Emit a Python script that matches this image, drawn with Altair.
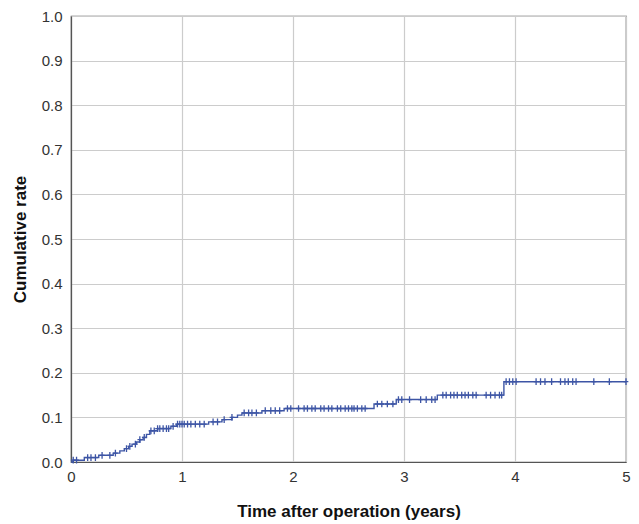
import altair as alt
import pandas as pd
import numpy as np

# Event times (years) and cumulative rate after each step
event_time = [0.0, 0.02, 0.12, 0.25, 0.38, 0.44, 0.48, 0.52, 0.55, 0.59, 0.62, 0.65,
              0.68, 0.71, 0.78, 0.90, 0.95, 1.24, 1.36, 1.45, 1.50, 1.54, 1.72, 1.92,
              2.73, 2.93, 3.30, 3.90]
event_rate = [0.0, 0.004, 0.010, 0.015, 0.020, 0.025, 0.030, 0.035, 0.040, 0.045, 0.050, 0.055,
              0.062, 0.070, 0.075, 0.080, 0.085, 0.090, 0.095, 0.100, 0.105, 0.110, 0.115, 0.120,
              0.130, 0.140, 0.150, 0.180]
end_time = 5.0

# Censored observation times (years)
censor_time = [0.02, 0.05, 0.15, 0.18, 0.22, 0.28, 0.35, 0.40, 0.50, 0.53, 0.58, 0.62, 0.66,
               0.72, 0.75, 0.78, 0.80, 0.83, 0.86, 0.88, 0.92, 0.96, 0.98,
               1.00, 1.02, 1.05, 1.08, 1.12, 1.16, 1.20, 1.28, 1.32, 1.38, 1.45, 1.56, 1.60,
               1.63, 1.67, 1.75, 1.80, 1.84, 1.88, 1.95, 1.98,
               2.05, 2.10, 2.13, 2.17, 2.20, 2.25, 2.28, 2.32, 2.35, 2.40, 2.43, 2.47, 2.50,
               2.53, 2.55, 2.58, 2.62, 2.65, 2.76, 2.80, 2.85, 2.90, 2.95, 2.98,
               3.05, 3.15, 3.20, 3.25, 3.28, 3.35, 3.38, 3.42, 3.45, 3.48, 3.52, 3.55, 3.58,
               3.62, 3.65, 3.74, 3.78, 3.82, 3.86, 3.88,
               3.92, 3.95, 3.98, 4.01, 4.19, 4.23, 4.27, 4.33, 4.41, 4.45, 4.48, 4.52, 4.55,
               4.71, 4.85, 5.0]

line_df = pd.DataFrame({"time": event_time + [end_time],
                        "rate": event_rate + [event_rate[-1]]})
idx = np.searchsorted(np.array(event_time), np.array(censor_time), side="right") - 1
cens_df = pd.DataFrame({"time": censor_time,
                        "rate": [event_rate[i] for i in idx]})

color = "#3d55a5"
font = "Liberation Sans"

x_enc = alt.X("time:Q", scale=alt.Scale(domain=[0, 5], nice=False),
              axis=alt.Axis(title="Time after operation (years)", values=[0, 1, 2, 3, 4, 5],
                            format="d", labelPadding=7, titlePadding=19, tickSize=0,
                            labelFlush=False))
y_enc = alt.Y("rate:Q", scale=alt.Scale(domain=[0, 1], nice=False),
              axis=alt.Axis(title="Cumulative rate", values=[i / 10 for i in range(11)],
                            format=".1f", labelPadding=9, titlePadding=12, tickSize=0,
                            labelFlush=False))

line = alt.Chart(line_df).mark_line(interpolate="step-after", color=color, strokeWidth=1.4).encode(
    x=x_enc, y=y_enc)

cens = alt.Chart(cens_df).mark_point(
    shape="M-0.7,0H0.7M0,-1V1", filled=False, color=color, size=45, strokeWidth=1.3, opacity=1
).encode(x="time:Q", y="rate:Q")

chart = (line + cens).properties(
    width=555, height=446,
    autosize=alt.AutoSizeParams(type="none"),
    padding={"left": 63, "top": 8, "right": 5, "bottom": 64},
).configure_view(stroke="#555555", strokeWidth=1.2).configure_axis(
    grid=True, gridColor="#cccccc", gridWidth=1.2,
    domainColor="#555555", domainWidth=1.2,
    labelFont=font, labelFontSize=15, labelColor="#333333",
    titleFont=font, titleFontSize=17, titleFontWeight="bold", titleColor="#111111",
)

chart.save("out.html", embed_options={"renderer": "svg", "actions": False})
